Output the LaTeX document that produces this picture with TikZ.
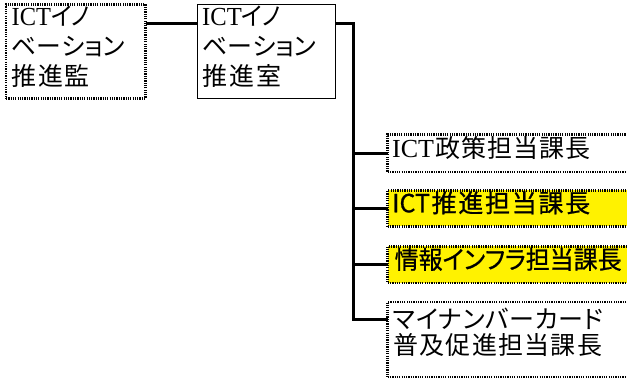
\documentclass[tikz,border=0pt]{standalone}
\usepackage{fontspec}
\usepackage{graphicx}
\setmainfont{Liberation Serif}
\newfontfamily\cjk{Noto Sans CJK JP}[RawFeature={+palt}]
\newfontfamily\cjkb{Noto Sans CJK JP}[RawFeature={+palt},FakeBold=0.8]
\newsavebox\fitbox
\newcommand\fitw[2]{\sbox\fitbox{#2}\ifdim\wd\fitbox>#1\relax\resizebox{#1}{\height}{\usebox\fitbox}\else\makebox[#1][s]{#2}\fi}
\begin{document}
\begin{tikzpicture}[x=1pt,y=-1pt,
  dotbox/.style={draw, line width=2.8pt, dash pattern=on 1.2pt off 1.1pt, inner sep=0pt, outer sep=0pt, anchor=north west},
  solidbox/.style={draw, line width=1pt, inner sep=0pt, outer sep=0pt, anchor=north west},
  hilite/.style={fill=yellow},
  conn/.style={line width=3pt},
  txt/.style={anchor=west, inner sep=0pt, text height=0.88em, text depth=0.12em, font=\fontsize{25}{30}\selectfont}]
\useasboundingbox (0,0) rectangle (627,379);
\fill[white] (0,0) rectangle (627,379);
\clip (0,0) rectangle (627,379);
% boxes
\node[dotbox, minimum width=139.5pt, minimum height=94pt] (b1) at (6,4.5) {};
\node[solidbox, minimum width=138.4pt, minimum height=93.7pt] (b2) at (197.3,5) {};
\node[dotbox, minimum width=260pt, minimum height=37.5pt] (b3) at (387.7,134.5) {};
\node[dotbox, hilite, minimum width=260pt, minimum height=36pt] (b4) at (387.7,190.5) {};
\node[dotbox, hilite, minimum width=260pt, minimum height=36.5pt] (b5) at (387.7,246.5) {};
\node[dotbox, minimum width=260pt, minimum height=75pt] (b6) at (387.7,302) {};
% texts
\node[txt] (t1a) at (11.5,21.5) {\fitw{78.5pt}{{\rmfamily\fontsize{26}{30}\selectfont ICT}\hfil{\cjk イ}\hfil{\cjk ノ}}};
\node[txt] (t1b) at (11.5,51.5) {\fitw{113pt}{\cjk ベ\hfil ー\hfil シ\hfil ョ\hfil ン}};
\node[txt] (t1c) at (11.5,81.5) {\fitw{78pt}{\cjk 推\hfil 進\hfil 監}};
\node[txt] (t2a) at (202,21.5) {\fitw{79pt}{{\rmfamily\fontsize{26}{30}\selectfont ICT}\hfil{\cjk イ}\hfil{\cjk ノ}}};
\node[txt] (t2b) at (202,51.5) {\fitw{114pt}{\cjk ベ\hfil ー\hfil シ\hfil ョ\hfil ン}};
\node[txt] (t2c) at (202,81.5) {\fitw{79pt}{\cjk 推\hfil 進\hfil 室}};
\node[txt] (t3) at (392,153.5) {\fitw{198pt}{{\rmfamily\fontsize{26}{30}\selectfont ICT}\hfil{\cjk 政}\hfil{\cjk 策}\hfil{\cjk 担}\hfil{\cjk 当}\hfil{\cjk 課}\hfil{\cjk 長}}};
\node[txt] (t4) at (392,208.5) {\fitw{198pt}{\cjkb ICT\hfil 推\hfil 進\hfil 担\hfil 当\hfil 課\hfil 長}};
\node[txt] (t5) at (394.5,265) {\fitw{227pt}{\cjkb 情\hfil 報\hfil イ\hfil ン\hfil フ\hfil ラ\hfil 担\hfil 当\hfil 課\hfil 長}};
\node[txt] (t6a) at (393,324.5) {\fitw{210pt}{\cjk マ\hfil イ\hfil ナ\hfil ン\hfil バ\hfil ー\hfil カ\hfil ー\hfil ド}};
\node[txt] (t6b) at (393,351) {\fitw{209pt}{\cjk 普\hfil 及\hfil 促\hfil 進\hfil 担\hfil 当\hfil 課\hfil 長}};
% connectors
\coordinate (j) at (353,23.3);
\coordinate (j6) at (353,320);
\draw[conn] (b1.north east |- j) -- (b2.north west |- j);
\draw[conn] (b2.north east |- j) -- (j) -- (j6) -- (b6.west |- j6);
\draw[conn] (j |- b3.west) -- (b3.west);
\draw[conn] (j |- b4.west) -- (b4.west);
\draw[conn] (j |- b5.west) -- (b5.west);
\end{tikzpicture}
\end{document}
